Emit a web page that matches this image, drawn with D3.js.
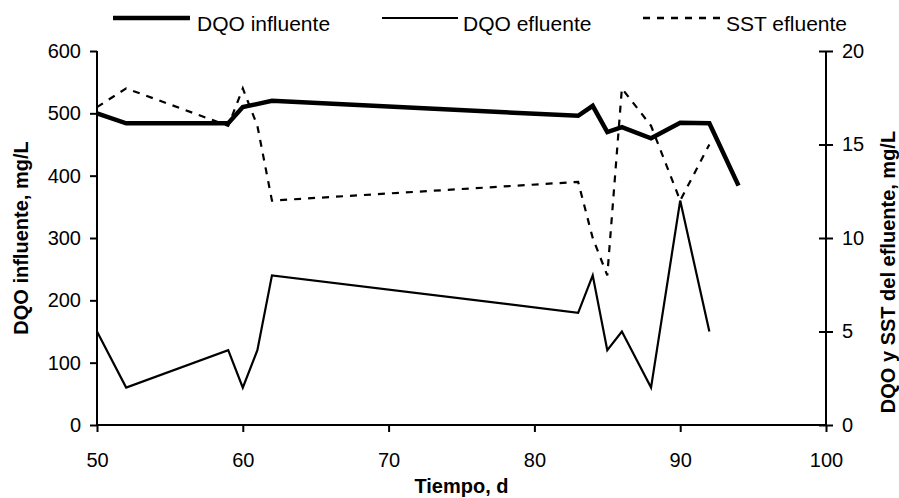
<!DOCTYPE html>
<html>
<head>
<meta charset="utf-8">
<script src="https://cdn.jsdelivr.net/npm/d3@7"></script>
<style>
  html, body { margin: 0; padding: 0; background: #fff; }
  svg text { font-family: "Liberation Sans", Arial, sans-serif; fill: #000; }
</style>
</head>
<body>
<svg id="chart" width="899" height="498"></svg>
<script>
// ---- data ----
const daysInfluente = [50, 52, 59, 60, 62, 83, 84, 85, 86, 88, 90, 92, 94];
const dqoInfluente  = [500, 484, 484, 510, 520, 496, 512, 470, 478, 460, 485, 484, 384];

const daysEfluente = [50, 52, 59, 60, 61, 62, 83, 84, 85, 86, 88, 90, 92];
const dqoEfluente  = [5, 2, 4, 2, 4, 8, 6, 8, 4, 5, 2, 12, 5];

const daysSST = [50, 52, 59, 60, 61, 62, 83, 84, 85, 86, 88, 90, 92];
const sstEfluente = [17, 18, 16, 18, 16, 12, 13, 10, 8, 18, 16, 12, 15];

const xTicks = [50, 60, 70, 80, 90, 100];
const yLeftTicks = [0, 100, 200, 300, 400, 500, 600];
const yRightTicks = [0, 5, 10, 15, 20];

const legendLabels = ["DQO influente", "DQO efluente", "SST efluente"];
const xTitle = "Tiempo, d";
const yLeftTitle = "DQO influente, mg/L";
const yRightTitle = "DQO y SST del efluente, mg/L";

// ---- layout ----
const svg = d3.select("#chart");
const L = 97, R = 826, T = 51, B = 425;

const x = d3.scaleLinear().domain([50, 100]).range([L, R]);
const yL = d3.scaleLinear().domain([0, 600]).range([B, T]);
const yR = d3.scaleLinear().domain([0, 20]).range([B, T]);

const fontTick = 20;
const fontTitle = 20;

// axes
const gx = svg.append("g").attr("transform", `translate(0,${B})`)
  .call(d3.axisBottom(x).tickValues(xTicks).tickSize(7).tickPadding(21).tickFormat(d3.format("d")));
const gl = svg.append("g").attr("transform", `translate(${L},0)`)
  .call(d3.axisLeft(yL).tickValues(yLeftTicks).tickSize(7).tickPadding(9).tickFormat(d3.format("d")));
const gr = svg.append("g").attr("transform", `translate(${R},0)`)
  .call(d3.axisRight(yR).tickValues(yRightTicks).tickSize(7).tickPadding(9).tickFormat(d3.format("d")));
// cross ticks on right axis
gr.selectAll(".tick line").attr("x1", -7);

[gx, gl, gr].forEach(g => {
  g.select(".domain").attr("stroke", "#000").attr("stroke-width", 2);
  g.selectAll(".tick line").attr("stroke", "#000").attr("stroke-width", 2);
  g.selectAll(".tick text").attr("font-size", fontTick)
    .attr("font-family", "Liberation Sans, Arial, sans-serif").attr("fill", "#000");
});
gx.select(".domain").attr("d", `M${L},0H${R}`);
gl.select(".domain").attr("d", `M0,${T}V${B}`);
gr.select(".domain").attr("d", `M0,${T}V${B}`);

// lines
const lineL = d3.line().x(d => x(d[0])).y(d => yL(d[1]));
const lineR = d3.line().x(d => x(d[0])).y(d => yR(d[1]));

svg.append("path")
  .datum(daysSST.map((d, i) => [d, sstEfluente[i]]))
  .attr("d", lineR).attr("fill", "none").attr("stroke", "#000")
  .attr("stroke-width", 2.2).attr("stroke-dasharray", "7,7");

svg.append("path")
  .datum(daysEfluente.map((d, i) => [d, dqoEfluente[i]]))
  .attr("d", lineR).attr("fill", "none").attr("stroke", "#000")
  .attr("stroke-width", 2.2).attr("stroke-linejoin", "miter");

svg.append("path")
  .datum(daysInfluente.map((d, i) => [d, dqoInfluente[i]]))
  .attr("d", lineL).attr("fill", "none").attr("stroke", "#000")
  .attr("stroke-width", 4.5).attr("stroke-linejoin", "miter");

// axis titles
svg.append("text").attr("x", (L + R) / 2).attr("y", 493)
  .attr("text-anchor", "middle").attr("font-size", fontTitle).attr("font-weight", "bold")
  .text(xTitle);
svg.append("text").attr("transform", `translate(28,${(T + B) / 2}) rotate(-90)`)
  .attr("text-anchor", "middle").attr("font-size", fontTitle).attr("font-weight", "bold")
  .text(yLeftTitle);
svg.append("text").attr("transform", `translate(895,272) rotate(-90)`)
  .attr("text-anchor", "middle").attr("font-size", fontTitle).attr("font-weight", "bold")
  .text(yRightTitle);

// legend
const legendItems = [
  { x1: 113, x2: 190, tx: 197, w: 4.5, dash: null },
  { x1: 382, x2: 458, tx: 463, w: 2.2, dash: null },
  { x1: 643, x2: 723, tx: 726, w: 2.5, dash: "7,7" }
];
legendItems.forEach((it, i) => {
  const ln = svg.append("line").attr("x1", it.x1).attr("x2", it.x2)
    .attr("y1", 18).attr("y2", 18).attr("stroke", "#000").attr("stroke-width", it.w);
  if (it.dash) ln.attr("stroke-dasharray", it.dash);
  svg.append("text").attr("x", it.tx).attr("y", 31).attr("font-size", 21)
    .text(legendLabels[i]);
});
</script>
</body>
</html>
